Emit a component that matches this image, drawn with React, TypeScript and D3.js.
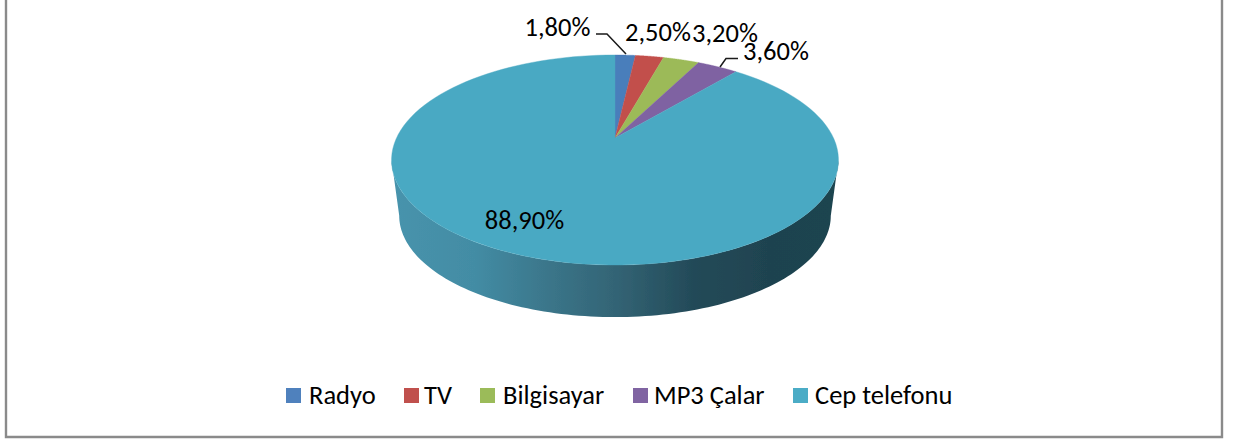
import React from "react";
import * as d3 from "d3";

const categories = ["Radyo", "TV", "Bilgisayar", "MP3 Çalar", "Cep telefonu"];
const values = [1.8, 2.5, 3.2, 3.6, 88.9];
const labels = ["1,80%", "2,50%", "3,20%", "3,60%", "88,90%"];
const colors = ["#4f81bd", "#c0504d", "#9bbb59", "#8064a2", "#4bacc6"];
const sliceColors = ["#4a7ebb", "#c24f4c", "#9cba58", "#7f62a2", "#4aa9c3"];
const labelPos: [number, number][] = [[557.5, 36], [658, 41], [725, 42], [776, 60], [524.5, 229]];
const legendX = [286, 404, 480, 633, 793];
const legendTextX = [309, 424, 503, 654, 815];
const sideStops: [number, string][] = [
  [0, "#4793ac"], [0.18, "#438ca4"], [0.36, "#3a7488"], [0.5, "#336475"],
  [0.68, "#234a58"], [0.85, "#1f4350"], [1, "#1f4450"],
];

const W = 1243, H = 439;
const persp = 0.2095; // perspective of the tilted disc
const topDisc = { cx: 615, cy: 138, a: 218.5, b: 100.4 };
const botDisc = { cx: 615, cy: 194.4, a: 211, b: 97 };

type Disc = typeof topDisc;
// angle measured clockwise from the back of the disc
const project = (d: Disc, t: number): [number, number] => {
  const u = Math.sin(t), v = Math.cos(t), k = 1 + persp * v;
  return [d.cx + (d.a * u) / k, d.cy - (d.b * v) / k];
};
const sample = (d: Disc, t0: number, t1: number) =>
  d3.range(0, 121).map((i) => project(d, t0 + ((t1 - t0) * i) / 120));

const line = d3.line();
const pie = d3.pie<number>().sort(null)(values);

const tR = Math.PI - Math.acos(persp);
const tL = Math.PI + Math.acos(persp);
const sidePath =
  line([...sample(topDisc, tR, tL), ...sample(botDisc, tR, tL).reverse()])! + "Z";

const fontFamily = "Carlito, Lato, 'Open Sans', sans-serif";

export default function App() {
  const gx = d3.scaleLinear().domain([0, 1]).range([396, 834]);
  return (
    <svg width={W} height={H} style={{ position: "absolute", left: 0, top: 0, background: "#fff" }}>
      <defs>
        <linearGradient id="side" gradientUnits="userSpaceOnUse" x1={gx(0)} x2={gx(1)} y1={0} y2={0}>
          {sideStops.map(([o, c]) => <stop key={o} offset={o} stopColor={c} />)}
        </linearGradient>
        <filter id="soft" x="-5%" y="-5%" width="110%" height="110%">
          <feGaussianBlur stdDeviation={0.6} />
        </filter>
      </defs>
      <path d="M6,-2V437H1222V-2" fill="none" stroke="#8a8a8a" strokeWidth={2.4} />
      <g filter="url(#soft)">
        <path d={sidePath} fill="url(#side)" />
        {pie.map((s, i) => (
          <path
            key={i}
            d={line([[topDisc.cx, topDisc.cy], ...sample(topDisc, s.startAngle, s.endAngle)])! + "Z"}
            fill={sliceColors[i]}
            stroke={sliceColors[i]}
            strokeWidth={0.4}
          />
        ))}
      </g>
      <path d="M596,34H607L626,54" fill="none" stroke="#1a1a1a" strokeWidth={1.5} />
      <path d="M738,58.5H726L720,67" fill="none" stroke="#1a1a1a" strokeWidth={1.5} />
      <g fontFamily={fontFamily} fontSize={26.5} fill="#000" textAnchor="middle">
        {labels.map((l, i) => (
          <text key={l} x={labelPos[i][0]} y={labelPos[i][1]}>{l}</text>
        ))}
      </g>
      <g fontFamily={fontFamily} fontSize={26.5} fill="#000">
        {categories.map((c, i) => (
          <g key={c}>
            <rect x={legendX[i]} y={388} width={15} height={15} fill={colors[i]} />
            <text x={legendTextX[i]} y={404}>{c}</text>
          </g>
        ))}
      </g>
    </svg>
  );
}
